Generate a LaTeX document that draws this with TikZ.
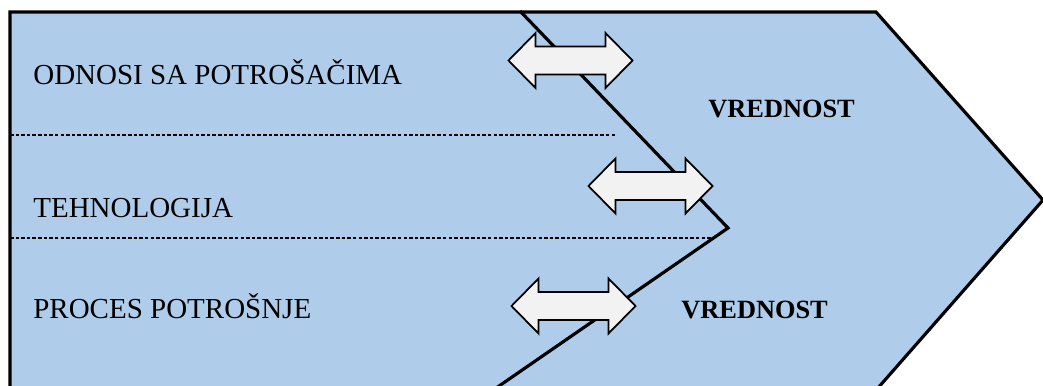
\documentclass[tikz,border=0pt]{standalone}
\usepackage{fontspec}
\setmainfont{Liberation Serif}
\usetikzlibrary{calc, positioning}

\definecolor{panelblue}{HTML}{AFCDEA}
\definecolor{arrowgray}{HTML}{F2F2F2}

\tikzset{
    outline/.style={draw=black, line width=1.8pt, line join=miter},
    divider/.style={draw=black, line width=0.6pt, dash pattern=on 2pt off 1.2pt},
    arrowbox/.style={draw=black, line width=1pt, fill=arrowgray, line join=miter},
    rowlabel/.style={anchor=base west, inner sep=0pt, font=\fontsize{16.5}{20}\selectfont},
    valuelabel/.style={anchor=base west, inner sep=0pt, font=\fontsize{15}{18}\selectfont\bfseries},
    twoway/.pic={
        \draw[arrowbox] (-62,0) -- (-35,-27.5) -- (-35,-14) -- (35,-14) -- (35,-27.5)
            -- (62,0) -- (35,27.5) -- (35,14) -- (-35,14) -- (-35,27.5) -- cycle;
    }
}

\begin{document}
\begin{tikzpicture}[x=0.02cm, y=-0.02cm]
                \useasboundingbox (0,0) rectangle (1043,385);
                \clip (0,0) rectangle (1043,385);

                % Arrow-shaped panel (runs off the bottom edge)
                \coordinate (topleft) at (10,12);
                \coordinate (topright) at (876,12);
                \coordinate (tip) at (1043,200);
                \coordinate (botright) at (863,405);
                \coordinate (botleft) at (10,405);
                \fill[panelblue] (topleft) -- (topright) -- (tip) -- (botright) -- (botleft) -- cycle;
                \draw[outline] (botleft) -- (topleft) -- (topright) -- (tip) -- (botright);

                % Dashed row dividers
                \draw[divider] (10,135) -- (617,135);
                \draw[divider] (10,238) -- (713,238);

                % Zigzag boundary
                \coordinate (zstart) at (520,11);
                \coordinate (zbend) at (728,228);
                \coordinate (zend) at (486,395);
                \draw[outline] (zstart) -- (zbend) -- (zend);

                % Double arrows across the boundary
                \foreach \ax/\ay in {570.5/60.5, 650.5/186, 573.5/306} {
                    \pic at (\ax,\ay) {twoway};
                }

                % Row labels
                \node[rowlabel] (odnosi) at (33,85) {ODNOSI SA POTROŠAČIMA};
                \node[rowlabel] (tehno) at (33,217) {TEHNOLOGIJA};
                \node[rowlabel] (proces) at (33,318) {PROCES POTROŠNJE};

                % Value labels
                \node[valuelabel] (vrednost1) at (708,117) {VREDNOST};
                \node[valuelabel] (vrednost2) at (681,318) {VREDNOST};
            \end{tikzpicture}
\end{document}
